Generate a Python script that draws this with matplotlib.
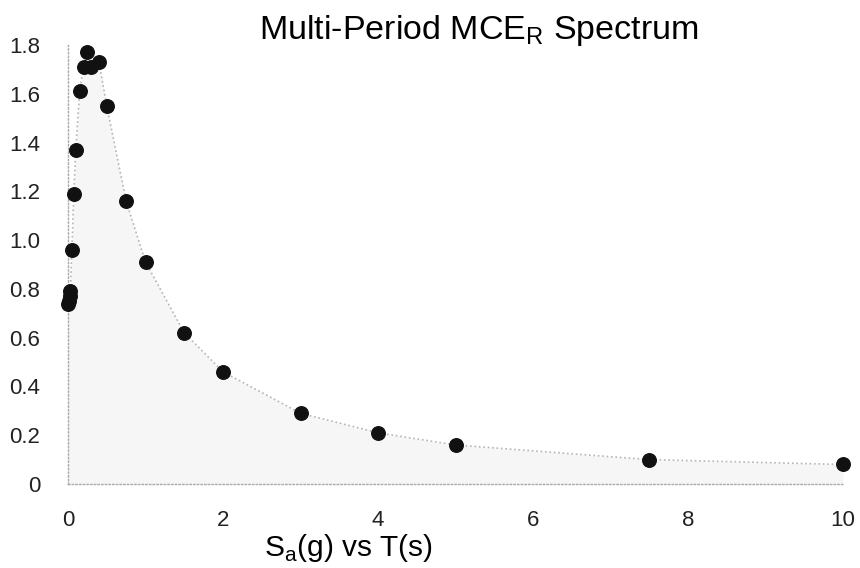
import numpy as np
import matplotlib.pyplot as plt

plt.rcParams["font.family"] = ["Liberation Sans", "DejaVu Sans"]

# period T (s) and spectral acceleration Sa (g)
period = [0, 0.01, 0.02, 0.03, 0.05, 0.075, 0.1, 0.15, 0.2, 0.25, 0.3, 0.4,
          0.5, 0.75, 1.0, 1.5, 2.0, 3.0, 4.0, 5.0, 7.5, 10.0]
sa = [0.74, 0.75, 0.77, 0.79, 0.96, 1.19, 1.37, 1.61, 1.71, 1.77, 1.71, 1.73,
      1.55, 1.16, 0.91, 0.62, 0.46, 0.29, 0.21, 0.16, 0.10, 0.08]

x_ticks = [0, 2, 4, 6, 8, 10]
y_ticks = [0, 0.2, 0.4, 0.6, 0.8, 1.0, 1.2, 1.4, 1.6, 1.8]
y_labels = ["0", "0.2", "0.4", "0.6", "0.8", "1.0", "1.2", "1.4", "1.6", "1.8"]

fig = plt.figure(figsize=(8.6, 5.68), dpi=100)
ax = fig.add_axes([68 / 860, 1 - 484 / 568, (843 - 68) / 860, (484 - 45) / 568])

ax.fill_between(period, sa, 0, color="#f6f6f6", linewidth=0, zorder=1)
ax.plot(period, sa, color="#b5b5b5", linestyle=":", linewidth=1.2, zorder=2)
ax.scatter(period, sa, s=95, color="#111111", zorder=3, clip_on=False)

ax.set_xlim(0, 10)
ax.set_ylim(0, 1.8)
ax.set_xticks(x_ticks)
ax.set_yticks(y_ticks)
ax.set_yticklabels(y_labels)
ax.tick_params(length=0, labelsize=16, colors="#222222")
ax.tick_params(axis="y", pad=20)
ax.tick_params(axis="x", pad=19)

for side in ["top", "right"]:
    ax.spines[side].set_visible(False)
for side in ["left", "bottom"]:
    ax.spines[side].set_linestyle(":")
    ax.spines[side].set_color("#aaaaaa")
    ax.spines[side].set_linewidth(1.0)

fig.text(479 / 860, 1 - 30 / 568, r"Multi-Period MCE$_\mathregular{R}$ Spectrum",
         ha="center", va="center", fontsize=24.5)
fig.text(348 / 860, 1 - 556 / 568, r"S$_\mathregular{a}$(g) vs T(s)",
         ha="center", va="baseline", fontsize=21.5)

plt.savefig("out.png", dpi=100)
